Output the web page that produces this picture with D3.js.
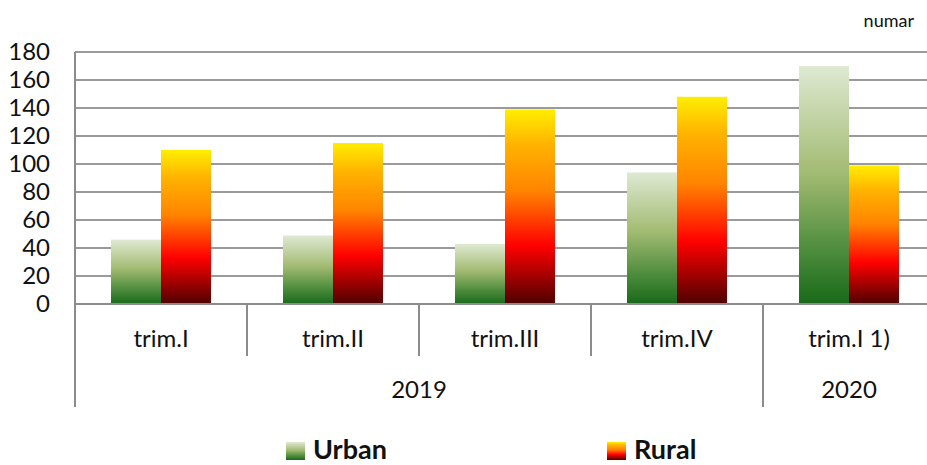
<!DOCTYPE html>
<html>
<head>
<meta charset="utf-8">
<script src="https://cdn.jsdelivr.net/npm/d3@7"></script>
<style>
  body { margin: 0; background: #fff; }
  svg { display: block; font-family: Lato, "Open Sans", sans-serif; }
</style>
</head>
<body>
<div class="chart"></div>
<script>
// values
const categories = ["trim.I", "trim.II", "trim.III", "trim.IV", "trim.I 1)"];
const years = ["2019", "2019", "2019", "2019", "2020"];
const yearLabels = ["2019", "2020"];
const series = ["Urban", "Rural"];
const urban = [46, 49, 43, 94, 170];
const rural = [110, 115, 139, 148, 99];
const yTicks = [0, 20, 40, 60, 80, 100, 120, 140, 160, 180];

const width = 927;
const height = 465;
const plotLeft = 75, bandW = 172, plotTop = 52, plotBottom = 304;

const svg = d3.select(".chart")
  .append("svg")
  .attr("width", width)
  .attr("height", height);

const defs = svg.append("defs");
const gUrban = defs.append("linearGradient").attr("id", "g-Urban")
  .attr("x1", 0).attr("y1", 0).attr("x2", 0).attr("y2", 1);
[[0, "#dfe9d3"], [0.45, "#a2bb72"], [0.78, "#4c8b3c"], [1, "#19691a"]].forEach(s => {
  gUrban.append("stop").attr("offset", s[0]).attr("stop-color", s[1]);
});
const gRural = defs.append("linearGradient").attr("id", "g-Rural")
  .attr("x1", 0).attr("y1", 0).attr("x2", 0).attr("y2", 1);
[[0, "#ffee00"], [0.18, "#ffb300"], [0.42, "#ff8400"], [0.7, "#ff0000"], [1, "#4f0000"]].forEach(s => {
  gRural.append("stop").attr("offset", s[0]).attr("stop-color", s[1]);
});

const x = d3.scaleBand()
  .domain(categories)
  .range([plotLeft, plotLeft + bandW * categories.length])
  .padding(0);

const xs = d3.scaleBand()
  .domain(series)
  .range([36, 136])
  .padding(0);

const y = d3.scaleLinear()
  .domain([0, 180])
  .range([plotBottom, plotTop]);

// gridlines
svg.selectAll(".grid")
  .data(yTicks)
  .enter()
  .append("line")
  .attr("x1", plotLeft)
  .attr("x2", width)
  .attr("y1", d => y(d))
  .attr("y2", d => y(d))
  .attr("stroke", "#9a9a9a")
  .attr("stroke-width", 2);

// y labels
svg.selectAll(".ylab")
  .data(yTicks)
  .enter()
  .append("text")
  .text(d => d)
  .attr("x", 50)
  .attr("y", d => y(d))
  .attr("dy", "0.35em")
  .attr("text-anchor", "end")
  .attr("font-size", "24px")
  .attr("fill", "#111");

// bars
const rows = categories.map((c, i) => ({ cat: c, Urban: urban[i], Rural: rural[i] }));
const groups = svg.selectAll(".grp")
  .data(rows)
  .enter()
  .append("g")
  .attr("transform", d => "translate(" + x(d.cat) + ",0)");

groups.selectAll("rect")
  .data(d => series.map(s => ({ key: s, value: d[s] })))
  .enter()
  .append("rect")
  .attr("x", d => xs(d.key))
  .attr("width", xs.bandwidth())
  .attr("y", d => y(d.value))
  .attr("height", d => y(0) - y(d.value))
  .attr("fill", d => "url(#g-" + d.key + ")");

// left border and axis line
svg.append("line")
  .attr("x1", plotLeft).attr("x2", plotLeft)
  .attr("y1", plotTop).attr("y2", 407)
  .attr("stroke", "#8c8c8c").attr("stroke-width", 2);
svg.append("line")
  .attr("x1", plotLeft).attr("x2", width)
  .attr("y1", plotBottom).attr("y2", plotBottom)
  .attr("stroke", "#8c8c8c").attr("stroke-width", 2);

// category separators
svg.selectAll(".sep")
  .data(categories.slice(1))
  .enter()
  .append("line")
  .attr("x1", d => x(d)).attr("x2", d => x(d))
  .attr("y1", plotBottom)
  .attr("y2", (d, i) => years[i + 1] !== years[i] ? 407 : 356)
  .attr("stroke", "#8c8c8c").attr("stroke-width", 2);

// category labels
svg.selectAll(".cat")
  .data(categories)
  .enter()
  .append("text")
  .text(d => d)
  .attr("x", d => x(d) + bandW / 2)
  .attr("y", 347)
  .attr("text-anchor", "middle")
  .attr("font-size", "24px")
  .attr("fill", "#111");

// year labels
svg.selectAll(".year")
  .data(yearLabels)
  .enter()
  .append("text")
  .text(d => d)
  .attr("x", d => {
    const idx = categories.filter((c, i) => years[i] === d);
    const first = x(idx[0]);
    const last = x(idx[idx.length - 1]) + bandW;
    return (first + last) / 2;
  })
  .attr("y", 398)
  .attr("text-anchor", "middle")
  .attr("font-size", "24px")
  .attr("fill", "#111");

// unit
svg.append("text")
  .text("numar")
  .attr("x", 914)
  .attr("y", 27)
  .attr("text-anchor", "end")
  .attr("font-size", "18px")
  .attr("fill", "#111");

// legend
const legX = [286, 607];
const leg = svg.selectAll(".leg")
  .data(series)
  .enter()
  .append("g")
  .attr("transform", (d, i) => "translate(" + legX[i] + ",442)");
leg.append("rect")
  .attr("width", 19)
  .attr("height", 18)
  .attr("fill", d => "url(#g-" + d + ")");
leg.append("text")
  .text(d => d)
  .attr("x", 27)
  .attr("y", 17)
  .attr("font-size", "27px")
  .attr("font-weight", "bold")
  .attr("fill", "#111");
</script>
</body>
</html>
